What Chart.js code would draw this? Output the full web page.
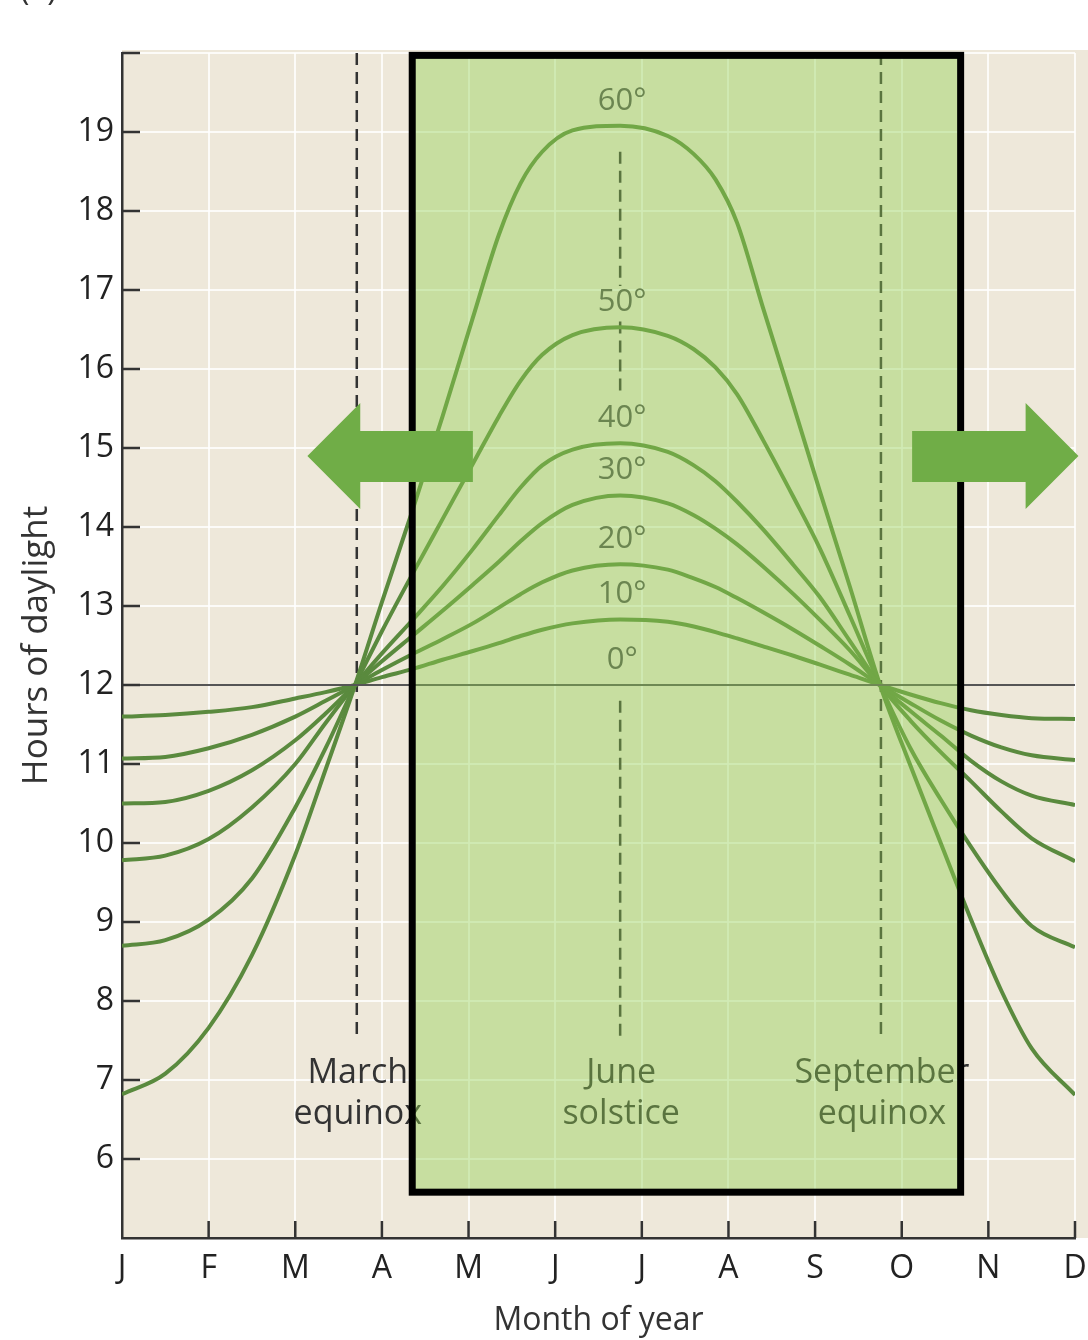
<!DOCTYPE html>
<html>
<head>
<meta charset="utf-8">
<script src="https://cdn.jsdelivr.net/npm/chart.js@4.4.1/dist/chart.umd.min.js"></script>
<style>
  html, body { margin: 0; padding: 0; background: #fff; }
</style>
</head>
<body>
<canvas id="mycanvas" width="1088" height="1340"></canvas>
<script>
// month tick labels (J at 0 ... D at 11)
var months = ['J', 'F', 'M', 'A', 'M', 'J', 'J', 'A', 'S', 'O', 'N', 'D'];

// sample positions along the year (month index) shared by the latitude curves
var monthPos = [0, 0.5, 1, 1.5, 2, 2.35, 2.69, 3.0, 3.35, 3.7, 4.05, 4.35, 4.6, 4.85, 5.2, 5.75,
                6.3, 6.6, 6.85, 7.1, 7.4, 7.75, 8.05, 8.4, 8.75, 9.1, 9.45, 9.8, 10.15, 10.5, 11];

// hours of daylight
var lat10 = [11.6, 11.62, 11.66, 11.72, 11.83, 11.91, 12, 12.1, 12.2, 12.32, 12.43, 12.53, 12.62, 12.7, 12.78, 12.83,
             12.8, 12.74, 12.67, 12.59, 12.49, 12.37, 12.26, 12.13, 12, 11.88, 11.77, 11.68, 11.62, 11.58, 11.57];
var lat20 = [11.07, 11.09, 11.2, 11.37, 11.6, 11.8, 12, 12.19, 12.39, 12.58, 12.78, 12.98, 13.15, 13.3, 13.45, 13.53,
             13.46, 13.35, 13.24, 13.1, 12.92, 12.7, 12.5, 12.26, 12, 11.77, 11.55, 11.36, 11.21, 11.11, 11.05];
var lat30 = [10.5, 10.52, 10.66, 10.92, 11.3, 11.64, 12, 12.3, 12.62, 12.94, 13.27, 13.56, 13.82, 14.05, 14.28, 14.4,
             14.3, 14.15, 13.98, 13.78, 13.5, 13.15, 12.83, 12.44, 12, 11.67, 11.36, 11.04, 10.78, 10.6, 10.48];
var lat40 = [9.78, 9.84, 10.05, 10.45, 11.0, 11.52, 12, 12.4, 12.82, 13.25, 13.72, 14.15, 14.5, 14.78, 14.98, 15.06,
             14.95, 14.78, 14.58, 14.32, 13.97, 13.52, 13.12, 12.56, 12, 11.55, 11.15, 10.78, 10.4, 10.06, 9.77];
var lat50 = [8.7, 8.77, 9.03, 9.55, 10.45, 11.2, 12, 12.68, 13.4, 14.1, 14.8, 15.4, 15.85, 16.18, 16.43, 16.53,
             16.42, 16.25, 16.02, 15.68, 15.1, 14.38, 13.74, 12.88, 12, 11.2, 10.55, 9.95, 9.4, 8.95, 8.68];
var lat60 = [6.82, 7.08, 7.66, 8.58, 9.85, 10.93, 12, 13.05, 14.2, 15.4, 16.65, 17.7, 18.35, 18.75, 19.02, 19.08,
             18.95, 18.72, 18.4, 17.85, 16.77, 15.54, 14.47, 13.25, 12, 10.98, 10.0, 9.03, 8.13, 7.4, 6.81];
var equatorPos = [0, 11.04];
var equatorHours = [12, 12];

var curveLabels = ['0°', '10°', '20°', '30°', '40°', '50°', '60°'];

// equinoxes / solstice (month index) and their captions
var eventPos = [2.71, 5.75, 8.76];
var eventNames = [['March', 'equinox'], ['June', 'solstice'], ['September', 'equinox']];

var FONT = 'Open Sans';
var curveColor = '#5a8a3e';

function pts(xs, ys) {
  return xs.map(function(x, i) { return { x: x, y: ys[i] }; });
}

var curves = [lat10, lat20, lat30, lat40, lat50, lat60];
var datasets = [{
  data: pts(equatorPos, equatorHours),
  borderColor: '#555555',
  borderWidth: 2,
  pointRadius: 0
}];
curves.forEach(function(c) {
  datasets.push({
    data: pts(monthPos, c),
    borderColor: curveColor,
    borderWidth: 4,
    pointRadius: 0,
    cubicInterpolationMode: 'monotone'
  });
});

var extras = {
  id: 'extras',
  beforeDraw: function(chart) {
    var ctx = chart.ctx, a = chart.chartArea;
    ctx.save();
    ctx.fillStyle = '#eee8da';
    ctx.fillRect(a.left, a.top - 3, chart.width - a.left, a.bottom - a.top + 3);
    // scrap of the panel letter cut off at the top
    ctx.fillStyle = '#333';
    ctx.font = '32px "' + FONT + '"';
    ctx.textAlign = 'left';
    ctx.textBaseline = 'alphabetic';
    ctx.fillText('(a)', 20, 0);
    ctx.restore();
  },
  beforeDatasetsDraw: function(chart) {
    var ctx = chart.ctx, xs = chart.scales.x, ys = chart.scales.y;
    ctx.save();
    ctx.strokeStyle = '#333';
    ctx.lineWidth = 2.5;
    ctx.setLineDash([12, 7]);
    var segs = [
      [[20, 7.5]],
      [[18.75, 17.05], [16.6, 15.7], [11.8, 7.5]],
      [[20, 7.5]]
    ];
    eventPos.forEach(function(p, i) {
      var x = xs.getPixelForValue(p);
      segs[i].forEach(function(s) {
        ctx.beginPath();
        ctx.moveTo(x, ys.getPixelForValue(s[0]));
        ctx.lineTo(x, ys.getPixelForValue(s[1]));
        ctx.stroke();
      });
    });
    ctx.restore();
  },
  afterDatasetsDraw: function(chart) {
    var ctx = chart.ctx, xs = chart.scales.x, ys = chart.scales.y, a = chart.chartArea;
    ctx.save();
    // inward tick marks
    ctx.strokeStyle = '#333';
    ctx.lineWidth = 2.5;
    for (var v = 6; v <= 20; v++) {
      var y = ys.getPixelForValue(v);
      ctx.beginPath(); ctx.moveTo(a.left, y); ctx.lineTo(a.left + 18, y); ctx.stroke();
    }
    for (var m = 1; m <= 11; m++) {
      var x = xs.getPixelForValue(m);
      ctx.beginPath(); ctx.moveTo(x, a.bottom); ctx.lineTo(x, a.bottom - 17); ctx.stroke();
    }
    // event captions
    ctx.fillStyle = '#333';
    ctx.font = '34px "' + FONT + '"';
    ctx.textAlign = 'center';
    ctx.textBaseline = 'middle';
    eventPos.forEach(function(p, i) {
      var x = xs.getPixelForValue(p);
      ctx.fillText(eventNames[i][0], x + 1, ys.getPixelForValue(7.08));
      ctx.fillText(eventNames[i][1], x + 1, ys.getPixelForValue(6.57));
    });
    // latitude labels above each curve peak
    ctx.fillStyle = '#505050';
    ctx.font = '31px "' + FONT + '"';
    var peaks = [12].concat(curves.map(function(c) { return Math.max.apply(null, c); }));
    var lx = xs.getPixelForValue(5.75) + 2;
    peaks.forEach(function(p, i) {
      ctx.fillText(curveLabels[i], lx, ys.getPixelForValue(p) - 25);
    });
    ctx.restore();
  },
  afterDraw: function(chart) {
    var ctx = chart.ctx, xs = chart.scales.x, ys = chart.scales.y;
    ctx.save();
    // highlighted summer window
    var bx0 = xs.getPixelForValue(3.35), bx1 = xs.getPixelForValue(9.68);
    var by0 = ys.getPixelForValue(19.97), by1 = ys.getPixelForValue(5.58);
    ctx.fillStyle = 'rgba(146, 208, 80, 0.42)';
    ctx.fillRect(bx0, by0, bx1 - bx0, by1 - by0);
    ctx.strokeStyle = '#000';
    ctx.lineWidth = 7;
    ctx.strokeRect(bx0, by0, bx1 - bx0, by1 - by0);
    // arrows
    var cy = ys.getPixelForValue(14.9);
    ctx.fillStyle = '#70ad47';
    function arrow(tip, base, tail) {
      ctx.beginPath();
      ctx.moveTo(tip, cy);
      ctx.lineTo(base, cy - 53);
      ctx.lineTo(base, cy - 25);
      ctx.lineTo(tail, cy - 25);
      ctx.lineTo(tail, cy + 26);
      ctx.lineTo(base, cy + 26);
      ctx.lineTo(base, cy + 53);
      ctx.closePath();
      ctx.fill();
    }
    arrow(xs.getPixelForValue(2.14), xs.getPixelForValue(2.75), xs.getPixelForValue(4.05));
    arrow(xs.getPixelForValue(11.04), xs.getPixelForValue(10.43), xs.getPixelForValue(9.12));
    ctx.restore();
  }
};

var ctx = document.getElementById('mycanvas');
var chart = new Chart(ctx, {
  type: 'line',
  data: { datasets: datasets },
  options: {
    responsive: false,
    animation: false,
    layout: { padding: { top: 53, right: 13, left: 0, bottom: 0 } },
    plugins: { legend: { display: false }, tooltip: { enabled: false } },
    scales: {
      x: {
        type: 'linear',
        min: 0,
        max: 11,
        afterFit: function(s) { s.height = 102; s.paddingLeft = 0; s.paddingRight = 0; },
        ticks: {
          stepSize: 1,
          autoSkip: false,
          maxRotation: 0,
          padding: 12,
          color: '#222',
          font: { family: FONT, size: 32 },
          callback: function(v) { return months[v]; }
        },
        grid: { color: 'rgba(255,255,255,0.8)', lineWidth: 2, drawTicks: false },
        border: { display: true, color: '#333', width: 2.5 },
        title: {
          display: true,
          text: 'Month of year',
          color: '#333',
          font: { family: FONT, size: 32 },
          padding: { top: 0, bottom: 0 }
        }
      },
      y: {
        min: 5,
        max: 20,
        afterFit: function(s) { s.width = 122; },
        ticks: {
          stepSize: 1,
          padding: 8,
          color: '#222',
          font: { family: FONT, size: 32 },
          callback: function(v) { return (v >= 6 && v <= 19) ? v : ''; }
        },
        grid: { color: 'rgba(255,255,255,0.8)', lineWidth: 2, drawTicks: false },
        border: { display: true, color: '#333', width: 2.5 },
        title: {
          display: true,
          text: 'Hours of daylight',
          color: '#333',
          font: { family: FONT, size: 35 },
          padding: { top: 16, bottom: 0 }
        }
      }
    }
  },
  plugins: [extras]
});
</script>
</body>
</html>
